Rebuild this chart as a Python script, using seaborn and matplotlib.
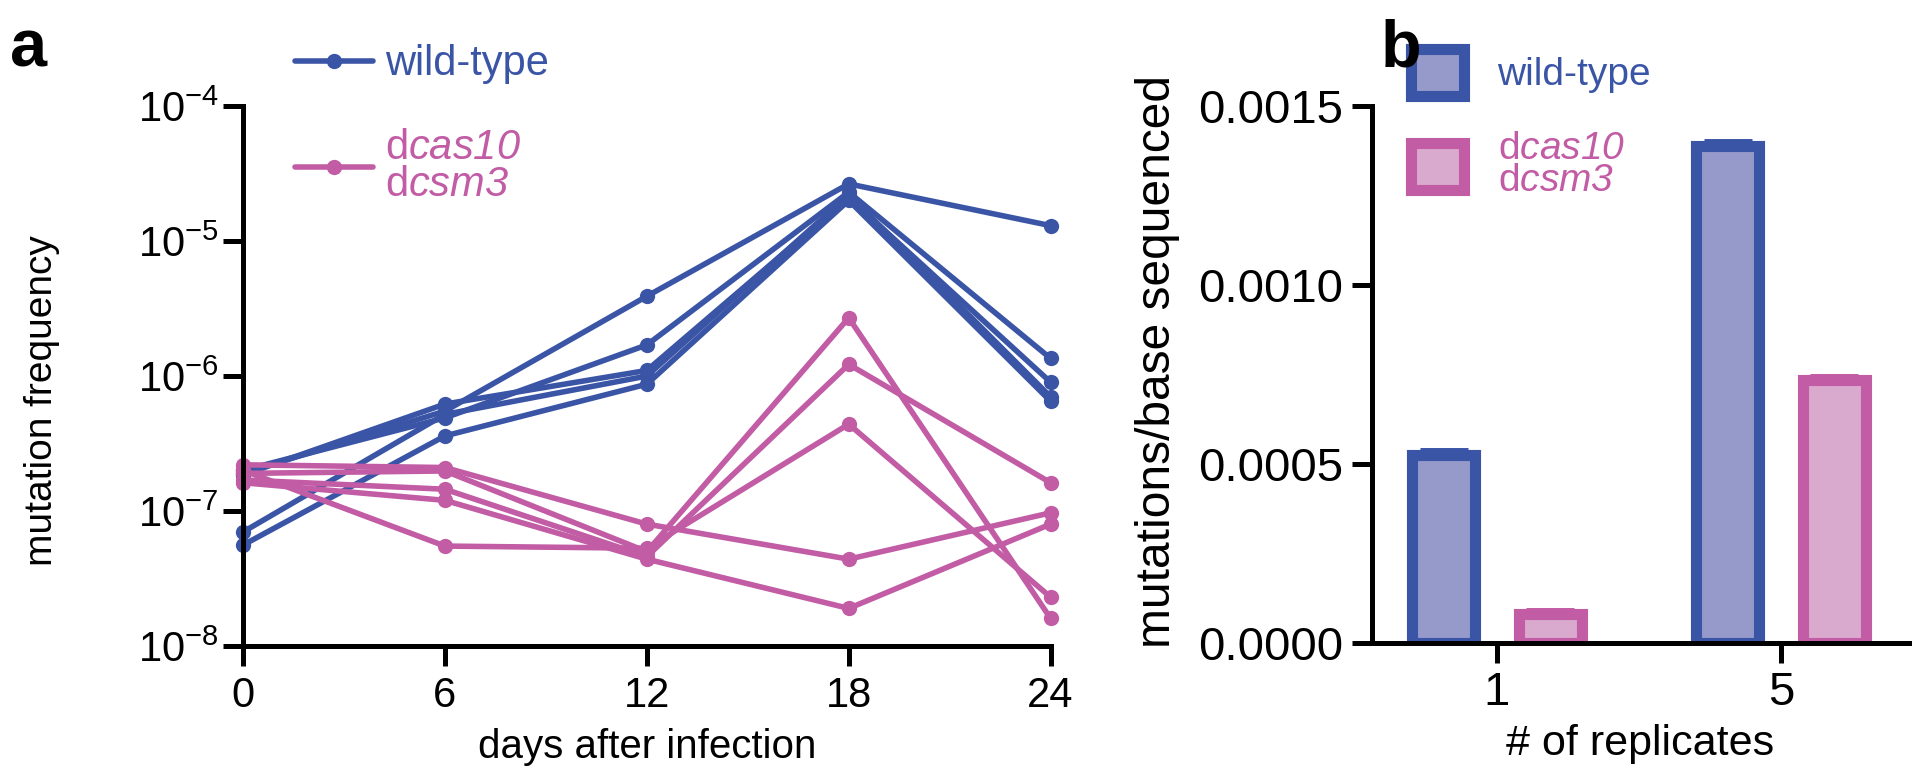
import numpy as np
import pandas as pd
import matplotlib
matplotlib.use("Agg")
import matplotlib.pyplot as plt
import seaborn as sns
from matplotlib.lines import Line2D
from matplotlib.patches import Patch
from matplotlib.ticker import NullLocator, FixedLocator

# ---------------- data ----------------
days = [0, 6, 12, 18, 24]
wt_line_1 = [1.90e-7, 5.5e-7, 3.9e-6, 2.65e-5, 1.30e-5]
wt_line_2 = [2.00e-7, 4.9e-7, 1.7e-6, 2.30e-5, 1.35e-6]
wt_line_3 = [1.85e-7, 6.2e-7, 1.1e-6, 2.10e-5, 9.0e-7]
wt_line_4 = [7.0e-8, 5.2e-7, 1.0e-6, 2.20e-5, 7.0e-7]
wt_line_5 = [5.6e-8, 3.6e-7, 8.7e-7, 2.00e-5, 6.5e-7]
mut_line_1 = [2.20e-7, 2.10e-7, 8.0e-8, 4.4e-8, 9.7e-8]
mut_line_2 = [1.90e-7, 1.98e-7, 5.0e-8, 2.7e-6, 1.6e-8]
mut_line_3 = [1.70e-7, 1.45e-7, 4.6e-8, 1.22e-6, 1.62e-7]
mut_line_4 = [1.62e-7, 1.20e-7, 4.4e-8, 1.9e-8, 8.0e-8]
mut_line_5 = [2.00e-7, 5.5e-8, 5.3e-8, 4.4e-7, 2.3e-8]

groups = ["wild-type", "dcas10 dcsm3"]
replicates = ["1", "5"]
wt_bars = [0.000526, 0.001389]
mut_bars = [0.000080, 0.000734]
wt_err = [0.000010, 0.000010]
mut_err = [0.000008, 0.000010]

ytick_vals = [1e-8, 1e-7, 1e-6, 1e-5, 1e-4]
ytick_labels = [r"$\mathregular{10^{-8}}$", r"$\mathregular{10^{-7}}$", r"$\mathregular{10^{-6}}$",
                r"$\mathregular{10^{-5}}$", r"$\mathregular{10^{-4}}$"]
bar_ticks = [0.0, 0.0005, 0.0010, 0.0015]
bar_tick_labels = ["0.0000", "0.0005", "0.0010", "0.0015"]

# ---------------- style ----------------
BLUE = "#3B55A6"
PINK = "#C15CA5"
BLUE_FILL = "#959ACB"
PINK_FILL = "#DAA9CE"

sns.set_theme(style="ticks")
plt.rcParams["font.family"] = ["Liberation Sans", "DejaVu Sans"]
plt.rcParams["mathtext.fontset"] = "custom"
plt.rcParams["mathtext.rm"] = "Liberation Sans:italic"
plt.rcParams["mathtext.it"] = "Liberation Sans:italic"
plt.rcParams["axes.linewidth"] = 3.6
plt.rcParams["axes.edgecolor"] = "black"
plt.rcParams["xtick.color"] = "black"
plt.rcParams["ytick.color"] = "black"
plt.rcParams["text.color"] = "black"
plt.rcParams["axes.labelcolor"] = "black"
plt.rcParams["xtick.major.width"] = 3.6
plt.rcParams["ytick.major.width"] = 3.6
plt.rcParams["xtick.major.size"] = 14.5
plt.rcParams["ytick.major.size"] = 14.5

fig = plt.figure(figsize=(19.2, 7.79), dpi=100)

# ---------------- panel a ----------------
rows = []
wt_all = [wt_line_1, wt_line_2, wt_line_3, wt_line_4, wt_line_5]
mut_all = [mut_line_1, mut_line_2, mut_line_3, mut_line_4, mut_line_5]
for i, ln in enumerate(wt_all):
    for d, v in zip(days, ln):
        rows.append({"day": d, "freq": v, "group": groups[0], "unit": f"w{i}"})
for i, ln in enumerate(mut_all):
    for d, v in zip(days, ln):
        rows.append({"day": d, "freq": v, "group": groups[1], "unit": f"m{i}"})
df_lines = pd.DataFrame(rows)

axa = fig.add_axes([0.1266, 0.1707, 0.4206, 0.6932])
sns.lineplot(data=df_lines, x="day", y="freq", hue="group", units="unit", estimator=None,
             palette={groups[0]: BLUE, groups[1]: PINK}, marker="o", markersize=11,
             markeredgewidth=0, linewidth=4.0, legend=False, ax=axa, clip_on=False)
axa.set_yscale("log")
axa.set_ylim(1e-8, 1e-4)
axa.set_xlim(0, 24)
axa.yaxis.set_major_locator(FixedLocator(ytick_vals))
axa.yaxis.set_minor_locator(NullLocator())
axa.set_yticklabels(ytick_labels)
axa.set_xticks(days)
axa.tick_params(axis="x", labelsize=30, pad=7)
axa.tick_params(axis="y", labelsize=30, pad=3)
axa.set_xlabel("days after infection", fontsize=29, labelpad=9)
axa.set_ylabel("mutation frequency", fontsize=28, labelpad=56)
axa.yaxis.label.set_y(0.455)
sns.despine(ax=axa)

lab_mut = "d$\\mathrm{cas10}$\nd$\\mathrm{csm3}$"
h1 = Line2D([], [], color=BLUE, lw=4.0, marker="o", ms=11, mew=0)
h2 = Line2D([], [], color=PINK, lw=4.0, marker="o", ms=11, mew=0)
lega = axa.legend([h1, h2], ["wild-type", lab_mut], loc="upper left",
                  bbox_to_anchor=(0.1536, 0.943), bbox_transform=fig.transFigure,
                  frameon=False, fontsize=30, handlelength=1.87, handletextpad=0.29,
                  labelspacing=1.04, borderaxespad=0, borderpad=0)
for t, c in zip(lega.get_texts(), [BLUE, PINK]):
    t.set_color(c)
    t.set_linespacing(0.92)

# ---------------- panel b ----------------
bar_rows = []
for r, v in zip(replicates, wt_bars):
    bar_rows.append({"rep": r, "val": v, "group": groups[0]})
for r, v in zip(replicates, mut_bars):
    bar_rows.append({"rep": r, "val": v, "group": groups[1]})
df_bars = pd.DataFrame(bar_rows)

axb = fig.add_axes([0.7146, 0.1746, 0.2797, 0.6893])
sns.barplot(data=df_bars, x="rep", y="val", hue="group", order=replicates, hue_order=groups,
            palette={groups[0]: BLUE_FILL, groups[1]: PINK_FILL}, saturation=1,
            width=0.75, gap=0.41, errorbar=None, linewidth=8, legend=False, ax=axb)
edge_cols = [BLUE, PINK]
errs = [wt_err, mut_err]
for cont, ec, err in zip(axb.containers, edge_cols, errs):
    xs, ys = [], []
    for bar in cont:
        bar.set_edgecolor(ec)
        xs.append(bar.get_x() + bar.get_width() / 2)
        ys.append(bar.get_height())
    axb.errorbar(xs, ys, yerr=[[0] * len(err), err], fmt="none", ecolor=ec,
                 elinewidth=4, capsize=17, capthick=5, zorder=5)

axb.set_xlim(-0.44, 1.451)
axb.set_ylim(0, 0.0015)
axb.set_yticks(bar_ticks)
axb.set_yticklabels(bar_tick_labels)
axb.tick_params(labelsize=34, pad=6)
axb.set_xlabel("# of replicates", fontsize=31, labelpad=6)
axb.set_ylabel("mutations/base sequenced", fontsize=34.5, labelpad=13)
axb.yaxis.label.set_y(0.525)
sns.despine(ax=axb)

p1 = Patch(facecolor=BLUE_FILL, edgecolor=BLUE, linewidth=8)
p2 = Patch(facecolor=PINK_FILL, edgecolor=PINK, linewidth=8)
legb = axb.legend([p1, p2], ["wild-type", lab_mut], loc="upper left",
                  bbox_to_anchor=(0.735, 0.937), bbox_transform=fig.transFigure,
                  frameon=False, fontsize=28, handlelength=1.35, handleheight=1.48,
                  handletextpad=0.87, labelspacing=0.9, borderaxespad=0, borderpad=0)
for t, c in zip(legb.get_texts(), [BLUE, PINK]):
    t.set_color(c)
    t.set_linespacing(0.86)

# ---------------- panel letters ----------------
fig.text(0.005, 0.914, "a", fontsize=48, fontweight="bold", va="baseline")
fig.text(0.719, 0.914, "b", fontsize=48, fontweight="bold", va="baseline")

fig.savefig("out.png", dpi=100)
